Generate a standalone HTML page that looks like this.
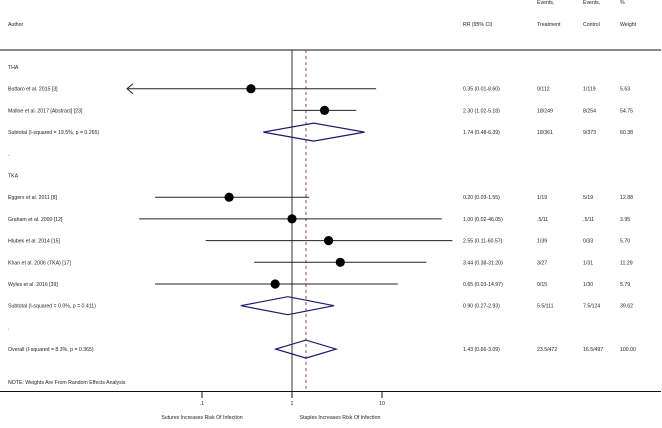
<!DOCTYPE html>
<html><head><meta charset="utf-8"><style>
html,body{margin:0;padding:0;background:#fff;}
svg text{font-family:"Liberation Sans",sans-serif;font-size:5.2px;fill:#222;}
</style></head><body>
<svg id="chart" width="662" height="423" viewBox="0 0 662 423" xmlns="http://www.w3.org/2000/svg"></svg>
<script>
const labels=["THA","Buttaro et al. 2015 [3]","Malloe et al. 2017 [Abstract] [23]","Subtotal  (I-squared = 19.5%, p = 0.265)",".","TKA","Eggers et al. 2011 [8]","Graham et al. 2000 [12]","Hlubek et al. 2014 [15]","Khan et al. 2006 (TKA) [17]","Wyles et al. 2016 [39]","Subtotal  (I-squared = 0.0%, p = 0.411)",".","Overall  (I-squared = 8.3%, p = 0.365)"];
const kinds=["h","s","s","d","h","h","s","s","s","s","s","d","h","d"];
const est=[null,0.35,2.30,1.74,null,null,0.20,1.00,2.55,3.44,0.65,0.90,null,1.43];
const lo=[null,0.01,1.02,0.48,null,null,0.03,0.02,0.11,0.38,0.03,0.27,null,0.66];
const hi=[null,8.60,5.18,6.39,null,null,1.55,46.05,60.57,31.20,14.97,2.93,null,3.09];
const rrText=["","0.35 (0.01-8.60)","2.30 (1.02-5.18)","1.74 (0.48-6.39)","","","0.20 (0.03-1.55)","1.00 (0.02-46.05)","2.55 (0.11-60.57)","3.44 (0.38-31.20)","0.65 (0.03-14.97)","0.90 (0.27-2.93)","","1.43 (0.66-3.09)"];
const evT=["","0/112","18/249","18/361","","","1/19",".5/11","1/39","3/27","0/15","5.5/111","","23.5/472"];
const evC=["","1/119","8/254","9/373","","","5/19",".5/11","0/33","1/31","1/30","7.5/124","","16.5/497"];
const wt=["","5.63","54.75","60.38","","","12.88","3.95","5.70","11.29","5.79","39.62","","100.00"];
const ticks=[0.1,1,10];
const tickLabels=[".1","1","10"];
const overall=1.43;

const svg=document.getElementById('chart');
const NS="http://www.w3.org/2000/svg";
const X=v=>292+90*Math.log10(v);
const Y=i=>67+i*21.7;
const XMIN=127;
function el(t,a,p){const e=document.createElementNS(NS,t);for(const k in a)e.setAttribute(k,a[k]);(p||svg).appendChild(e);return e;}
function txt(x,y,s,name,anchor){const t=el('text',{x:x,y:y});if(anchor)t.setAttribute('text-anchor',anchor);t.textContent=s;


return t;}

txt(8,26,"Author","author-header");
txt(463,26,"RR (95% CI)","rr-header");
txt(537,4,"Events,","events-treatment-header-1");
txt(537,26,"Treatment","events-treatment-header-2");
txt(583,4,"Events,","events-control-header-1");
txt(583,26,"Control","events-control-header-2");
txt(620,4,"%","weight-header-1");
txt(620,26,"Weight","weight-header-2");

let l=el('line',{x1:0,y1:50,x2:661,y2:50,stroke:'#111','stroke-width':1});


l=el('line',{x1:X(1),y1:50,x2:X(1),y2:391,stroke:'#555','stroke-width':1.2});


l=el('line',{x1:X(overall),y1:50,x2:X(overall),y2:391,stroke:'#8a4a5a','stroke-width':1,'stroke-dasharray':'3,3'});



labels.forEach((s,i)=>{
  const y=Y(i);
  txt(8,y+2,s,'row-label-'+i);
  if(rrText[i]){
    txt(463,y+2,rrText[i],'rr-value-'+i);
    txt(537,y+2,evT[i],'events-treatment-'+i);
    txt(583,y+2,evC[i],'events-control-'+i);
    txt(620,y+2,wt[i],'weight-'+i);
  }
  if(kinds[i]==='s'){
    const x1=Math.max(X(lo[i]),XMIN),x2=X(hi[i]);
    const ln=el('line',{x1:x1,y1:y,x2:x2,y2:y,stroke:'#222','stroke-width':1});
    
    
    if(X(lo[i])<XMIN){
      const ar=el('polyline',{points:`${x1+6},${y-5} ${x1},${y} ${x1+6},${y+5}`,fill:'none',stroke:'#222','stroke-width':1});
      
      
    }
    const c=el('circle',{cx:X(est[i]),cy:y,r:4.6,fill:'#000'});
    
    
  } else if(kinds[i]==='d'){
    const d=el('polygon',{points:`${X(lo[i])},${y} ${X(est[i])},${y-9} ${X(hi[i])},${y} ${X(est[i])},${y+9}`,fill:'none',stroke:'#1a1a6e','stroke-width':1.2});
    
    
  }
});

txt(8,384,"NOTE: Weights Are From Random Effects Analysis","note");
l=el('line',{x1:0,y1:391.5,x2:661,y2:391.5,stroke:'#111','stroke-width':1});


ticks.forEach((t,k)=>{
  const tk=el('line',{x1:X(t),y1:391.5,x2:X(t),y2:398,stroke:'#111','stroke-width':1});
  
  
  txt(X(t),405,tickLabels[k],'x-tick-label-'+k,'middle');
});
txt(202,419,"Sutures Increases Risk Of Infection","left-axis-title","middle");
txt(340,419,"Staples Increases Risk Of Infection","right-axis-title","middle");
</script>
</body></html>
